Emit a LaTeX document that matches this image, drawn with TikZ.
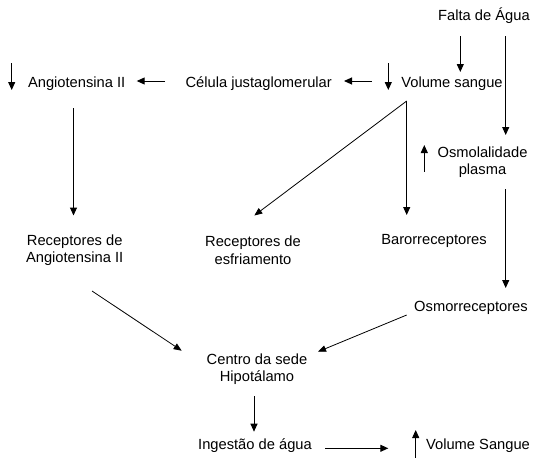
\documentclass[tikz,border=0pt]{standalone}
\usepackage{fontspec}
\setmainfont{Liberation Sans}
\usetikzlibrary{arrows.meta,calc}
\begin{document}
\begin{tikzpicture}[x=1pt,y=-1pt,
  lbl/.style={inner sep=0pt,align=center,font=\fontsize{14.7}{17.5}\selectfont},
  arr/.style={line width=1pt,-{Triangle[length=8pt,width=7pt]}},
  darr/.style={line width=0.8pt,-{Triangle[length=8pt,width=6.5pt]}}]
\useasboundingbox[fill=white] (0,0) rectangle (538,466);
\node[lbl] (falta) at (484,16) {Falta de Água};
\node[lbl] (vol) at (452,84) {Volume sangue};
\node[lbl] (cel) at (258.7,84) {Célula justaglomerular};
\node[lbl] (ang) at (76.7,84) {Angiotensina II};
\node[lbl] (osm) at (482.5,162) {Osmolalidade\\plasma};
\node[lbl] (recang) at (74.7,250) {Receptores de\\Angiotensina II};
\node[lbl] (recesf) at (253,250) {Receptores de\\esfriamento};
\node[lbl] (baro) at (434,240.5) {Barorreceptores};
\node[lbl] (osmr) at (471,308) {Osmorreceptores};
\node[lbl] (centro) at (257,369) {Centro da sede\\Hipotálamo};
\node[lbl] (ingest) at (255,446) {Ingestão de água};
\node[lbl] (volS) at (478,446) {Volume Sangue};
% connectors
\draw[arr] ($(falta)+(-23.7,20)$) -- ($(vol)+(8.3,-12)$);
\draw[arr] ($(falta)+(21.7,20)$) -- ($(osm)+(23.2,-27)$);
\draw[arr] ($(vol)+(-80.3,-3)$) -- ($(cel)+(85.3,-3)$);
\draw[arr] ($(vol)+(-63.7,-21)$) -- ($(vol)+(-63.7,6)$);
\draw[arr] ($(cel)+(-93.7,-3)$) -- ($(ang)+(60,-3)$);
\draw[arr] ($(ang)+(-65,-21)$) -- ($(ang)+(-65,6)$);
\draw[arr] ($(ang)+(-3.2,24)$) -- ($(recang)+(-1.2,-34.5)$);
\draw[darr] ($(vol)+(-45.3,17)$) -- ($(recesf)+(1.3,-34.5)$);
\draw[arr] ($(vol)+(-45.3,17)$) -- ($(baro)+(-27.3,-25.5)$);
\draw[arr] ($(osm)+(-58.2,9.7)$) -- ($(osm)+(-58.2,-17)$);
\draw[arr] ($(osm)+(23.2,27)$) -- ($(osmr)+(34.7,-20)$);
\draw[darr] ($(recang)+(17.3,41)$) -- ($(centro)+(-75.3,-18.3)$);
\draw[darr] ($(osmr)+(-64.3,7)$) -- ($(centro)+(61,-17.3)$);
\draw[arr] ($(centro)+(-3,27)$) -- ($(ingest)+(-1,-14.3)$);
\draw[arr] ($(ingest)+(70,2.3)$) -- ($(volS)+(-89.7,2.3)$);
\draw[arr] ($(volS)+(-62.3,11.7)$) -- ($(volS)+(-62.3,-16)$);
\end{tikzpicture}
\end{document}
